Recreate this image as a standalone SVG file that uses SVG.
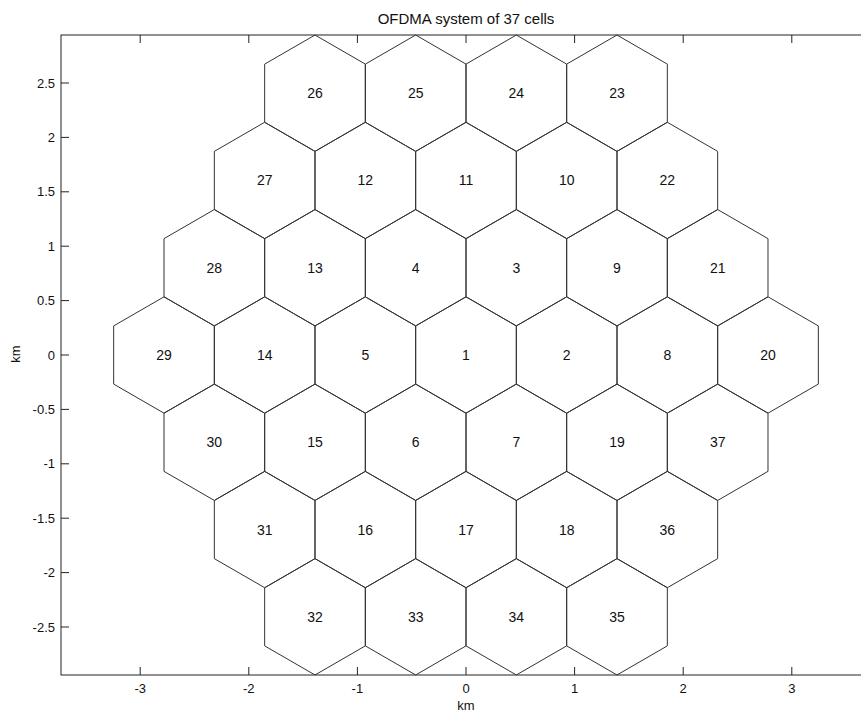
<svg xmlns="http://www.w3.org/2000/svg" xmlns:xlink="http://www.w3.org/1999/xlink" width="861" height="713" viewBox="0 0 861 713">
<style>
.hex{fill:none;stroke:#333;stroke-width:1}
.lbl{font-family:"Liberation Sans",Arial,sans-serif;font-size:14px;fill:#111;text-anchor:middle}
.tick{stroke:#222;stroke-width:1}
.tl{font-family:"Liberation Sans",Arial,sans-serif;font-size:13px;fill:#111}
.ax{fill:none;stroke:#222;stroke-width:1}
</style>
<defs>
<polygon id="hex" class="hex" points="0,-58.18 50.33,-29.09 50.33,29.09 0,58.18 -50.33,29.09 -50.33,-29.09"/>
</defs>
<rect width="861" height="713" fill="#fff"/>
<g id="axes">
<rect class="ax" x="61" y="35" width="810" height="640"/>
<g id="xticks">
<path class="tick" d="M140.2,675v-8M248.8,675v-8M357.4,675v-8M466,675v-8M574.6,675v-8M683.2,675v-8M791.8,675v-8M140.2,35v8M248.8,35v8M357.4,35v8M466,35v8M574.6,35v8M683.2,35v8M791.8,35v8"/>
<g class="tl" text-anchor="middle">
<text x="140.2" y="693">-3</text><text x="248.8" y="693">-2</text><text x="357.4" y="693">-1</text><text x="466" y="693">0</text><text x="574.6" y="693">1</text><text x="683.2" y="693">2</text><text x="791.8" y="693">3</text>
</g>
</g>
<g id="yticks">
<path class="tick" d="M61,83h8M61,137.4h8M61,191.8h8M61,246.2h8M61,300.6h8M61,355h8M61,409.4h8M61,463.8h8M61,518.2h8M61,572.6h8M61,627h8"/>
<g class="tl" text-anchor="end">
<text x="55" y="87.5">2.5</text><text x="55" y="141.9">2</text><text x="55" y="196.3">1.5</text><text x="55" y="250.7">1</text><text x="55" y="305.1">0.5</text><text x="55" y="359.5">0</text><text x="55" y="413.9">-0.5</text><text x="55" y="468.3">-1</text><text x="55" y="522.7">-1.5</text><text x="55" y="577.1">-2</text><text x="55" y="631.5">-2.5</text>
</g>
</g>
<text class="tl" x="466" y="24" text-anchor="middle" style="font-size:15px">OFDMA system of 37 cells</text>
<text class="tl" x="466" y="710" text-anchor="middle">km</text>
<text class="tl" x="0" y="0" text-anchor="middle" transform="translate(20,354) rotate(-90)">km</text>
</g>
<g id="connectors"></g>
<g id="cells">
<g id="cell26" transform="translate(315,93.2)"><use href="#hex"/><text class="lbl" y="5">26</text></g>
<g id="cell25" transform="translate(415.67,93.2)"><use href="#hex"/><text class="lbl" y="5">25</text></g>
<g id="cell24" transform="translate(516.33,93.2)"><use href="#hex"/><text class="lbl" y="5">24</text></g>
<g id="cell23" transform="translate(617,93.2)"><use href="#hex"/><text class="lbl" y="5">23</text></g>
<g id="cell27" transform="translate(264.67,180.46)"><use href="#hex"/><text class="lbl" y="5">27</text></g>
<g id="cell12" transform="translate(365.33,180.46)"><use href="#hex"/><text class="lbl" y="5">12</text></g>
<g id="cell11" transform="translate(466,180.46)"><use href="#hex"/><text class="lbl" y="5">11</text></g>
<g id="cell10" transform="translate(566.67,180.46)"><use href="#hex"/><text class="lbl" y="5">10</text></g>
<g id="cell22" transform="translate(667.33,180.46)"><use href="#hex"/><text class="lbl" y="5">22</text></g>
<g id="cell28" transform="translate(214.33,267.73)"><use href="#hex"/><text class="lbl" y="5">28</text></g>
<g id="cell13" transform="translate(315,267.73)"><use href="#hex"/><text class="lbl" y="5">13</text></g>
<g id="cell4" transform="translate(415.67,267.73)"><use href="#hex"/><text class="lbl" y="5">4</text></g>
<g id="cell3" transform="translate(516.33,267.73)"><use href="#hex"/><text class="lbl" y="5">3</text></g>
<g id="cell9" transform="translate(617,267.73)"><use href="#hex"/><text class="lbl" y="5">9</text></g>
<g id="cell21" transform="translate(717.67,267.73)"><use href="#hex"/><text class="lbl" y="5">21</text></g>
<g id="cell29" transform="translate(164,355)"><use href="#hex"/><text class="lbl" y="5">29</text></g>
<g id="cell14" transform="translate(264.67,355)"><use href="#hex"/><text class="lbl" y="5">14</text></g>
<g id="cell5" transform="translate(365.33,355)"><use href="#hex"/><text class="lbl" y="5">5</text></g>
<g id="cell1" transform="translate(466,355)"><use href="#hex"/><text class="lbl" y="5">1</text></g>
<g id="cell2" transform="translate(566.67,355)"><use href="#hex"/><text class="lbl" y="5">2</text></g>
<g id="cell8" transform="translate(667.33,355)"><use href="#hex"/><text class="lbl" y="5">8</text></g>
<g id="cell20" transform="translate(768,355)"><use href="#hex"/><text class="lbl" y="5">20</text></g>
<g id="cell30" transform="translate(214.33,442.27)"><use href="#hex"/><text class="lbl" y="5">30</text></g>
<g id="cell15" transform="translate(315,442.27)"><use href="#hex"/><text class="lbl" y="5">15</text></g>
<g id="cell6" transform="translate(415.67,442.27)"><use href="#hex"/><text class="lbl" y="5">6</text></g>
<g id="cell7" transform="translate(516.33,442.27)"><use href="#hex"/><text class="lbl" y="5">7</text></g>
<g id="cell19" transform="translate(617,442.27)"><use href="#hex"/><text class="lbl" y="5">19</text></g>
<g id="cell37" transform="translate(717.67,442.27)"><use href="#hex"/><text class="lbl" y="5">37</text></g>
<g id="cell31" transform="translate(264.67,529.54)"><use href="#hex"/><text class="lbl" y="5">31</text></g>
<g id="cell16" transform="translate(365.33,529.54)"><use href="#hex"/><text class="lbl" y="5">16</text></g>
<g id="cell17" transform="translate(466,529.54)"><use href="#hex"/><text class="lbl" y="5">17</text></g>
<g id="cell18" transform="translate(566.67,529.54)"><use href="#hex"/><text class="lbl" y="5">18</text></g>
<g id="cell36" transform="translate(667.33,529.54)"><use href="#hex"/><text class="lbl" y="5">36</text></g>
<g id="cell32" transform="translate(315,616.8)"><use href="#hex"/><text class="lbl" y="5">32</text></g>
<g id="cell33" transform="translate(415.67,616.8)"><use href="#hex"/><text class="lbl" y="5">33</text></g>
<g id="cell34" transform="translate(516.33,616.8)"><use href="#hex"/><text class="lbl" y="5">34</text></g>
<g id="cell35" transform="translate(617,616.8)"><use href="#hex"/><text class="lbl" y="5">35</text></g>
</g>
</svg>
